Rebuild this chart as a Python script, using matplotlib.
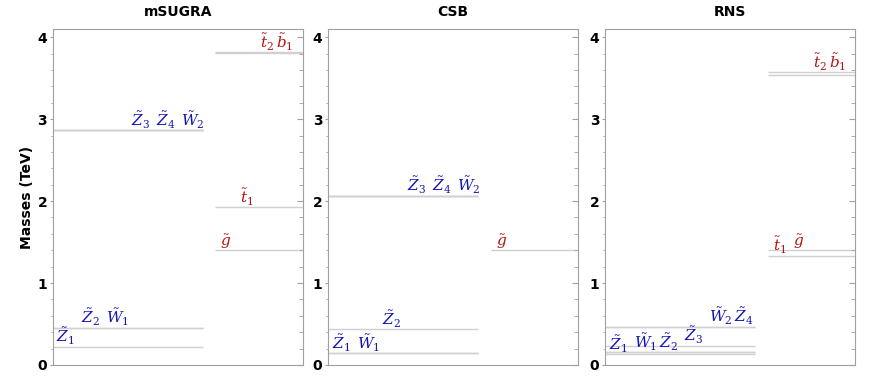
import matplotlib
matplotlib.use("Agg")
import matplotlib.pyplot as plt
from matplotlib.ticker import MultipleLocator

plt.rcParams['mathtext.fontset'] = 'dejavuserif'

# model names
models = ['mSUGRA', 'CSB', 'RNS']

# electroweakinos (blue), masses in TeV, in label order
ino_labels = {
    'mSUGRA': [r'$\tilde{Z}_1$', r'$\tilde{Z}_2$', r'$\tilde{W}_1$',
               r'$\tilde{Z}_3$', r'$\tilde{Z}_4$', r'$\tilde{W}_2$'],
    'CSB': [r'$\tilde{Z}_1$', r'$\tilde{W}_1$', r'$\tilde{Z}_2$',
            r'$\tilde{Z}_3$', r'$\tilde{Z}_4$', r'$\tilde{W}_2$'],
    'RNS': [r'$\tilde{Z}_1$', r'$\tilde{W}_1$', r'$\tilde{Z}_2$',
            r'$\tilde{Z}_3$', r'$\tilde{W}_2$', r'$\tilde{Z}_4$'],
}
ino_masses = {
    'mSUGRA': [0.224, 0.456, 0.456, 2.87, 2.87, 2.87],
    'CSB': [0.143, 0.143, 0.436, 2.066, 2.066, 2.066],
    'RNS': [0.131, 0.155, 0.155, 0.236, 0.468, 0.468],
}

# coloured sparticles (red), masses in TeV, in label order
col_labels = {
    'mSUGRA': [r'$\tilde{g}$', r'$\tilde{t}_1$', r'$\tilde{t}_2$', r'$\tilde{b}_1$'],
    'CSB': [r'$\tilde{g}$'],
    'RNS': [r'$\tilde{t}_1$', r'$\tilde{g}$', r'$\tilde{t}_2$', r'$\tilde{b}_1$'],
}
col_masses = {
    'mSUGRA': [1.406, 1.928, 3.82, 3.806],
    'CSB': [1.406],
    'RNS': [1.333, 1.406, 3.573, 3.537],
}

blue = '#1414b4'
red = '#b41414'
line_col = '#d0d0d0'
frame_col = '#a0a0a0'

fig = plt.figure(figsize=(8.72, 3.8), dpi=100)
lefts = [52.7, 328, 605]
width = 250
bottom = 15
height = 336
col_x = [0.67, 0.75, 0.83, 0.895]

for i, m in enumerate(models):
    ax = fig.add_axes([lefts[i] / 872, bottom / 380, width / 872, height / 380])
    ax.set_xlim(0, 1)
    ax.set_ylim(0, 4.1)

    ax.hlines(ino_masses[m], 0, 0.6, color=line_col, lw=1.0)
    for k, (lab, y) in enumerate(zip(ino_labels[m], ino_masses[m])):
        ax.text(0.015 + 0.1 * k, y + 0.045, lab, color=blue, fontsize=11,
                ha='left', va='baseline')

    ax.hlines(col_masses[m], 0.65, 1.0, color=line_col, lw=1.0)
    for k, (lab, y) in enumerate(zip(col_labels[m], col_masses[m])):
        yy = max(col_masses[m][2:]) if k >= 2 else y
        ax.text(col_x[k], yy + 0.045, lab, color=red, fontsize=11,
                ha='left', va='baseline')

    for s in ax.spines.values():
        s.set_color(frame_col)
        s.set_linewidth(0.8)
    ax.set_xticks([])
    ax.yaxis.set_major_locator(MultipleLocator(1))
    ax.yaxis.set_minor_locator(MultipleLocator(0.2))
    ax.tick_params(axis='y', which='both', left=True, right=False,
                   direction='out', colors=frame_col, labelcolor='black',
                   labelsize=10, pad=1.5)
    ax.tick_params(axis='y', which='major', length=2.5)
    ax.tick_params(axis='y', which='minor', length=1.5)
    for t in ax.get_yticklabels():
        t.set_fontweight('bold')
    ax.set_title(m, fontsize=10, fontweight='bold', pad=9)
    if i == 0:
        ax.set_ylabel('Masses (TeV)', fontsize=10, fontweight='bold')
        ax.yaxis.set_label_coords(-0.075, 0.5)

    # inward ticks on the right side
    ax2 = ax.twinx()
    ax2.set_ylim(0, 4.1)
    ax2.yaxis.set_major_locator(MultipleLocator(1))
    ax2.yaxis.set_minor_locator(MultipleLocator(0.2))
    ax2.tick_params(axis='y', which='both', direction='in', colors=frame_col,
                    labelright=False, length=4)
    ax2.tick_params(axis='y', which='minor', length=3)
    for s in ax2.spines.values():
        s.set_visible(False)

fig.savefig('out.png', dpi=100)
